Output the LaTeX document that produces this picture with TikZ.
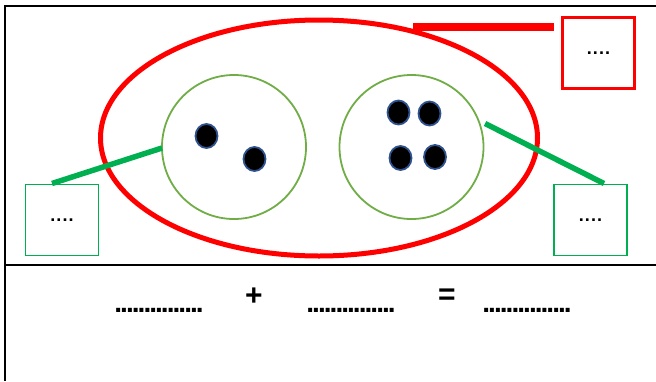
\documentclass[tikz,border=0pt]{standalone}
\usepackage{fontspec}
\setmainfont{Liberation Sans}
\usetikzlibrary{shapes.geometric}
\definecolor{ored}{HTML}{FF0000}
\definecolor{ogreen}{HTML}{00B050}
\definecolor{cgreen}{HTML}{70AD47}
\definecolor{dotblue}{HTML}{2F528F}
\begin{document}
\begin{tikzpicture}[x=1pt,y=-1pt,
  frame/.style={draw=black,line width=2pt},
  bigoval/.style={draw=ored,line width=5pt},
  setcircle/.style={draw=cgreen,line width=1.8pt},
  counter/.style={draw=dotblue,fill=black,line width=1.8pt,ellipse,minimum width=22pt,minimum height=24pt,inner sep=0pt},
  redbox/.style={draw=ored,line width=2.2pt,minimum width=72pt,minimum height=71pt,inner sep=0pt},
  greenbox/.style={draw=ogreen,line width=1.8pt,minimum width=73pt,minimum height=71pt,inner sep=0pt},
  redlink/.style={draw=ored,line width=7.5pt},
  greenlink/.style={draw=ogreen,line width=5.5pt},
  blank/.style={font=\fontsize{28}{28}\selectfont\bfseries\addfontfeature{LetterSpace=-7},inner sep=0pt},
  sym/.style={font=\fontsize{30}{30}\selectfont\bfseries,inner sep=0pt},
  boxtext/.style={font=\fontsize{18}{18}\selectfont\bfseries\addfontfeature{LetterSpace=6}}
]
\useasboundingbox (0,0) rectangle (656,381);
% frame
\coordinate (tl) at (5,6);
\coordinate (tr) at (656,6);
\coordinate (bl) at (5,381);
\coordinate (ml) at (5,265);
\coordinate (mr) at (656,265);
\draw[frame] (tr) -- (tl) -- (bl);
\draw[frame] (ml) -- (mr);
% big oval
\node[bigoval,ellipse,minimum width=437pt,minimum height=236pt,inner sep=0pt] (oval) at (319,138) {};
% circles
\node[setcircle,circle,minimum size=144pt,inner sep=0pt] (c1) at (234,147) {};
\node[setcircle,circle,minimum size=144pt,inner sep=0pt] (c2) at (411.5,147) {};
% counters
\node[counter] (d1) at (206.5,136) {};
\node[counter] (d2) at (254.5,159) {};
\node[counter] (d3) at (398.5,112.5) {};
\node[counter] (d4) at (429.5,113.5) {};
\node[counter] (d5) at (400.5,158) {};
\node[counter] (d6) at (435,157) {};
% boxes
\node[redbox] (rb) at (598.5,53) {};
\node[greenbox] (gb1) at (62,220) {};
\node[greenbox] (gb2) at (590.5,220) {};
\node[boxtext] at (rb.center) {....};
\node[boxtext] at (gb1.center) {....};
\node[boxtext] at (gb2.center) {....};
% links
\coordinate (r1) at (413,27);
\coordinate (r2) at (554,27);
\draw[redlink] (r1) -- (r2);
\coordinate (g1a) at (52,183.5);
\coordinate (g1b) at (162,148);
\draw[greenlink] (g1a) -- (g1b);
\coordinate (g2a) at (485,123.5);
\coordinate (g2b) at (604,183.5);
\draw[greenlink] (g2a) -- (g2b);
% equation
\node[blank,anchor=base] (b1) at (159,312) {...............};
\node[sym] (plus) at (254,297) {+};
\node[blank,anchor=base] (b2) at (351,312) {...............};
\node[sym] (eq) at (447,296.5) {=};
\node[blank,anchor=base] (b3) at (527,312) {...............};
\end{tikzpicture}
\end{document}
